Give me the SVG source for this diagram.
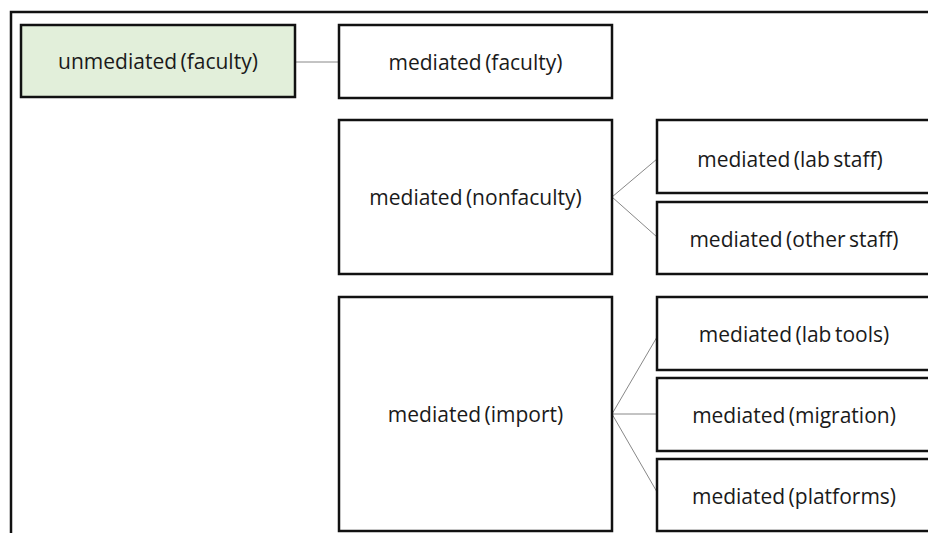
<svg xmlns="http://www.w3.org/2000/svg" width="928" height="533" viewBox="0 0 928 533">
<style>
.box{fill:#fff;stroke:#111;stroke-width:2.5}
.green{fill:#e2efda}
.lbl{font-family:"Open Sans","Liberation Sans",sans-serif;font-size:21px;fill:#1a1a1a;text-anchor:middle;dominant-baseline:central;word-spacing:-2px}
.con{stroke:#888;stroke-width:1;fill:none}
</style>
<rect width="928" height="533" fill="#fff"/>
<rect x="11" y="12" width="930" height="540" fill="none" stroke="#111" stroke-width="2.5"/>
<g id="connectors">
<line class="con" x1="295" y1="62" x2="339" y2="62"/>
<line class="con" x1="612" y1="197" x2="657" y2="159"/>
<line class="con" x1="612" y1="197" x2="657" y2="237"/>
<line class="con" x1="612" y1="414" x2="657" y2="337"/>
<line class="con" x1="612" y1="414" x2="657" y2="414"/>
<line class="con" x1="612" y1="414" x2="657" y2="492"/>
</g>
<g id="n-unmediated-faculty"><rect class="box green" x="21" y="25" width="274" height="72"/><text class="lbl" x="158" y="61">unmediated (faculty)</text></g>
<g id="n-mediated-faculty"><rect class="box" x="339" y="25" width="273" height="73"/><text class="lbl" x="475.5" y="62">mediated (faculty)</text></g>
<g id="n-mediated-nonfaculty"><rect class="box" x="339" y="120" width="273" height="154"/><text class="lbl" x="475.5" y="197">mediated (nonfaculty)</text></g>
<g id="n-mediated-import"><rect class="box" x="339" y="297" width="273" height="234"/><text class="lbl" x="475.5" y="414">mediated (import)</text></g>
<g id="n-lab-staff"><rect class="box" x="657" y="120" width="290" height="73"/><text class="lbl" x="790" y="159">mediated (lab staff)</text></g>
<g id="n-other-staff"><rect class="box" x="657" y="202" width="290" height="72"/><text class="lbl" x="794" y="239">mediated (other staff)</text></g>
<g id="n-lab-tools"><rect class="box" x="657" y="297" width="290" height="73"/><text class="lbl" x="794" y="334">mediated (lab tools)</text></g>
<g id="n-migration"><rect class="box" x="657" y="378" width="290" height="73"/><text class="lbl" x="794" y="415">mediated (migration)</text></g>
<g id="n-platforms"><rect class="box" x="657" y="459" width="290" height="72"/><text class="lbl" x="794" y="496">mediated (platforms)</text></g>
</svg>
